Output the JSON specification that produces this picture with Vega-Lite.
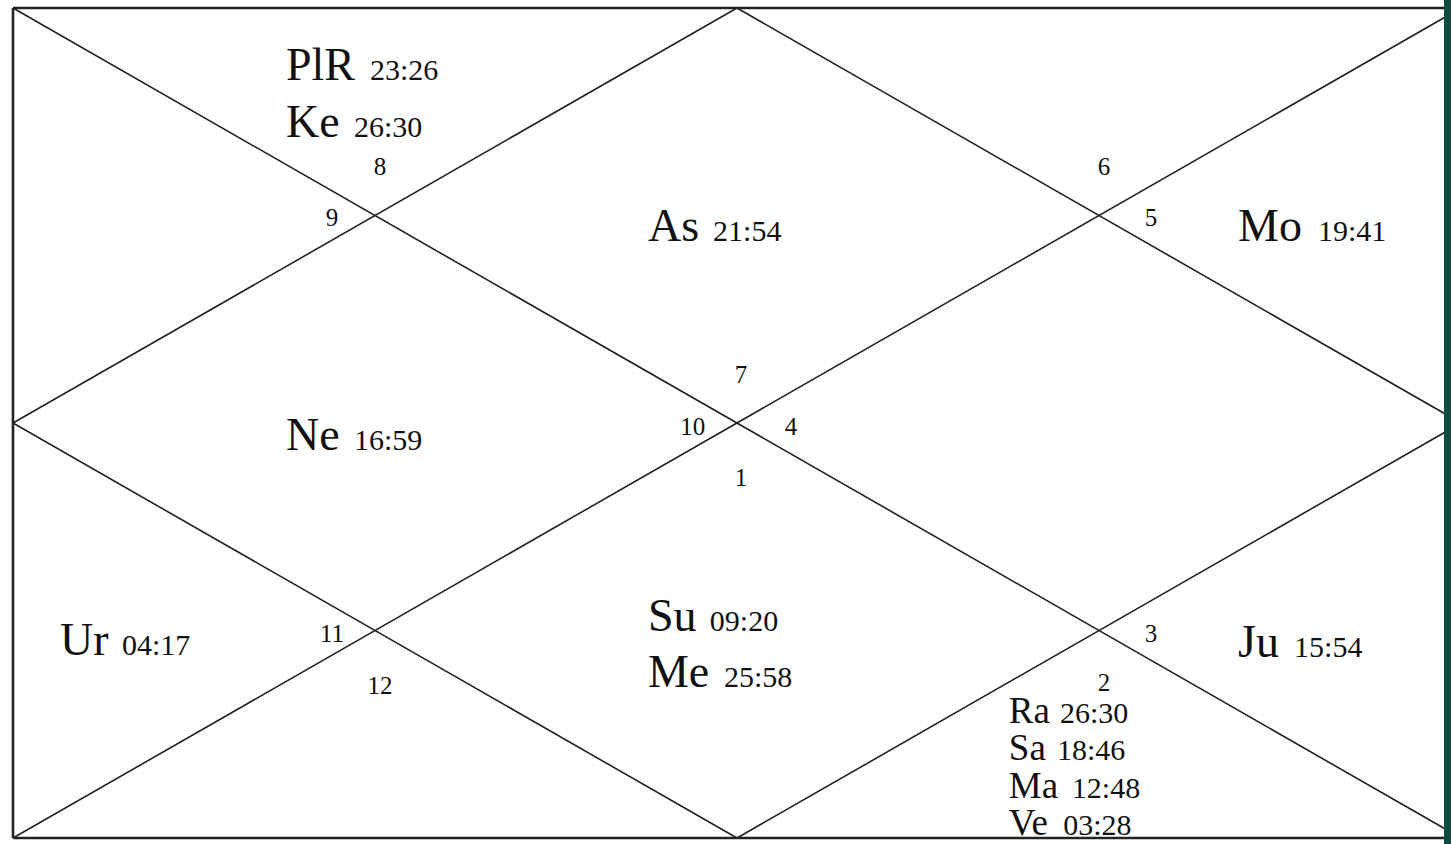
{
  "$schema": "https://vega.github.io/schema/vega-lite/v6.json",
  "width": 1451,
  "height": 844,
  "autosize": "none",
  "padding": 0,
  "background": "white",
  "config": {"view": {"stroke": null}},
  "datasets": {
    "border": [
      {"x": 0, "y": 0, "x2": 4, "y2": 0},
      {"x": 0, "y": 4, "x2": 4, "y2": 4},
      {"x": 0, "y": 0, "x2": 0, "y2": 4},
      {"x": 4, "y": 0, "x2": 4, "y2": 4}
    ],
    "inner": [
      {"x": 0, "y": 0, "x2": 4, "y2": 4},
      {"x": 0, "y": 4, "x2": 4, "y2": 0},
      {"x": 2, "y": 0, "x2": 0, "y2": 2},
      {"x": 0, "y": 2, "x2": 2, "y2": 4},
      {"x": 2, "y": 4, "x2": 4, "y2": 2},
      {"x": 4, "y": 2, "x2": 2, "y2": 0}
    ],
    "strip": [{"x": 3.953, "x2": 4.1, "y": -0.1, "y2": 4.1}],
    "planets": [
      {"planet": "PlR", "deg": "23:26", "x": 0.754, "xd": 0.986, "y": 0.345, "house": "main"},
      {"planet": "Ke", "deg": "26:30", "x": 0.754, "xd": 0.942, "y": 0.62, "house": "main"},
      {"planet": "As", "deg": "21:54", "x": 1.754, "xd": 1.934, "y": 1.125, "house": "main"},
      {"planet": "Mo", "deg": "19:41", "x": 3.384, "xd": 3.605, "y": 1.125, "house": "main"},
      {"planet": "Ne", "deg": "16:59", "x": 0.754, "xd": 0.942, "y": 2.13, "house": "main"},
      {"planet": "Ur", "deg": "04:17", "x": 0.13, "xd": 0.301, "y": 3.12, "house": "main"},
      {"planet": "Su", "deg": "09:20", "x": 1.754, "xd": 1.925, "y": 3.003, "house": "main"},
      {"planet": "Me", "deg": "25:58", "x": 1.754, "xd": 1.964, "y": 3.27, "house": "main"},
      {"planet": "Ju", "deg": "15:54", "x": 3.384, "xd": 3.539, "y": 3.128, "house": "main"},
      {"planet": "Ra", "deg": "26:30", "x": 2.751, "xd": 2.892, "y": 3.446, "house": "crowded"},
      {"planet": "Sa", "deg": "18:46", "x": 2.751, "xd": 2.884, "y": 3.624, "house": "crowded"},
      {"planet": "Ma", "deg": "12:48", "x": 2.751, "xd": 2.925, "y": 3.807, "house": "crowded"},
      {"planet": "Ve", "deg": "03:28", "x": 2.751, "xd": 2.901, "y": 3.986, "house": "crowded"}
    ],
    "houses": [
      {"num": "8", "x": 1.014, "y": 0.805},
      {"num": "9", "x": 0.881, "y": 1.05},
      {"num": "7", "x": 2.011, "y": 1.807},
      {"num": "10", "x": 1.878, "y": 2.058},
      {"num": "4", "x": 2.149, "y": 2.058},
      {"num": "1", "x": 2.011, "y": 2.303},
      {"num": "6", "x": 3.014, "y": 0.805},
      {"num": "5", "x": 3.144, "y": 1.05},
      {"num": "11", "x": 0.881, "y": 3.055},
      {"num": "12", "x": 1.014, "y": 3.306},
      {"num": "3", "x": 3.144, "y": 3.055},
      {"num": "2", "x": 3.014, "y": 3.292}
    ]
  },
  "resolve": {"scale": {"x": "shared", "y": "shared"}},
  "layer": [
    {
      "data": {"name": "inner"},
      "mark": {"type": "rule", "stroke": "#222222", "strokeWidth": 1.6},
      "encoding": {
        "x": {"field": "x", "type": "quantitative", "scale": {"domain": [-0.0359, 3.9724], "nice": false, "zero": false}, "axis": null},
        "y": {"field": "y", "type": "quantitative", "scale": {"domain": [-0.0386, 4.0289], "nice": false, "zero": false, "reverse": true}, "axis": null},
        "x2": {"field": "x2"},
        "y2": {"field": "y2"}
      }
    },
    {
      "data": {"name": "border"},
      "mark": {"type": "rule", "stroke": "#222222", "strokeWidth": 2.6},
      "encoding": {
        "x": {"field": "x", "type": "quantitative"},
        "y": {"field": "y", "type": "quantitative"},
        "x2": {"field": "x2"},
        "y2": {"field": "y2"}
      }
    },
    {
      "data": {"name": "strip"},
      "mark": {"type": "rect", "fill": "#0f4b3f", "clip": true},
      "encoding": {
        "x": {"field": "x", "type": "quantitative"},
        "y": {"field": "y", "type": "quantitative"},
        "x2": {"field": "x2"},
        "y2": {"field": "y2"}
      }
    },
    {
      "data": {"name": "planets"},
      "mark": {"type": "text", "font": "Liberation Serif", "align": "left", "baseline": "alphabetic", "fill": "#111111"},
      "encoding": {
        "x": {"field": "x", "type": "quantitative"},
        "y": {"field": "y", "type": "quantitative"},
        "text": {"field": "planet"},
        "size": {"field": "house", "type": "nominal", "scale": {"domain": ["main", "crowded"], "range": [46, 37]}, "legend": null}
      }
    },
    {
      "data": {"name": "planets"},
      "mark": {"type": "text", "font": "Liberation Serif", "align": "left", "baseline": "alphabetic", "fontSize": 30, "fill": "#111111"},
      "encoding": {
        "x": {"field": "xd", "type": "quantitative"},
        "y": {"field": "y", "type": "quantitative"},
        "text": {"field": "deg"}
      }
    },
    {
      "data": {"name": "houses"},
      "mark": {"type": "text", "font": "Liberation Serif", "align": "center", "baseline": "alphabetic", "fontSize": 25, "fill": "#111111"},
      "encoding": {
        "x": {"field": "x", "type": "quantitative"},
        "y": {"field": "y", "type": "quantitative"},
        "text": {"field": "num"}
      }
    }
  ]
}
